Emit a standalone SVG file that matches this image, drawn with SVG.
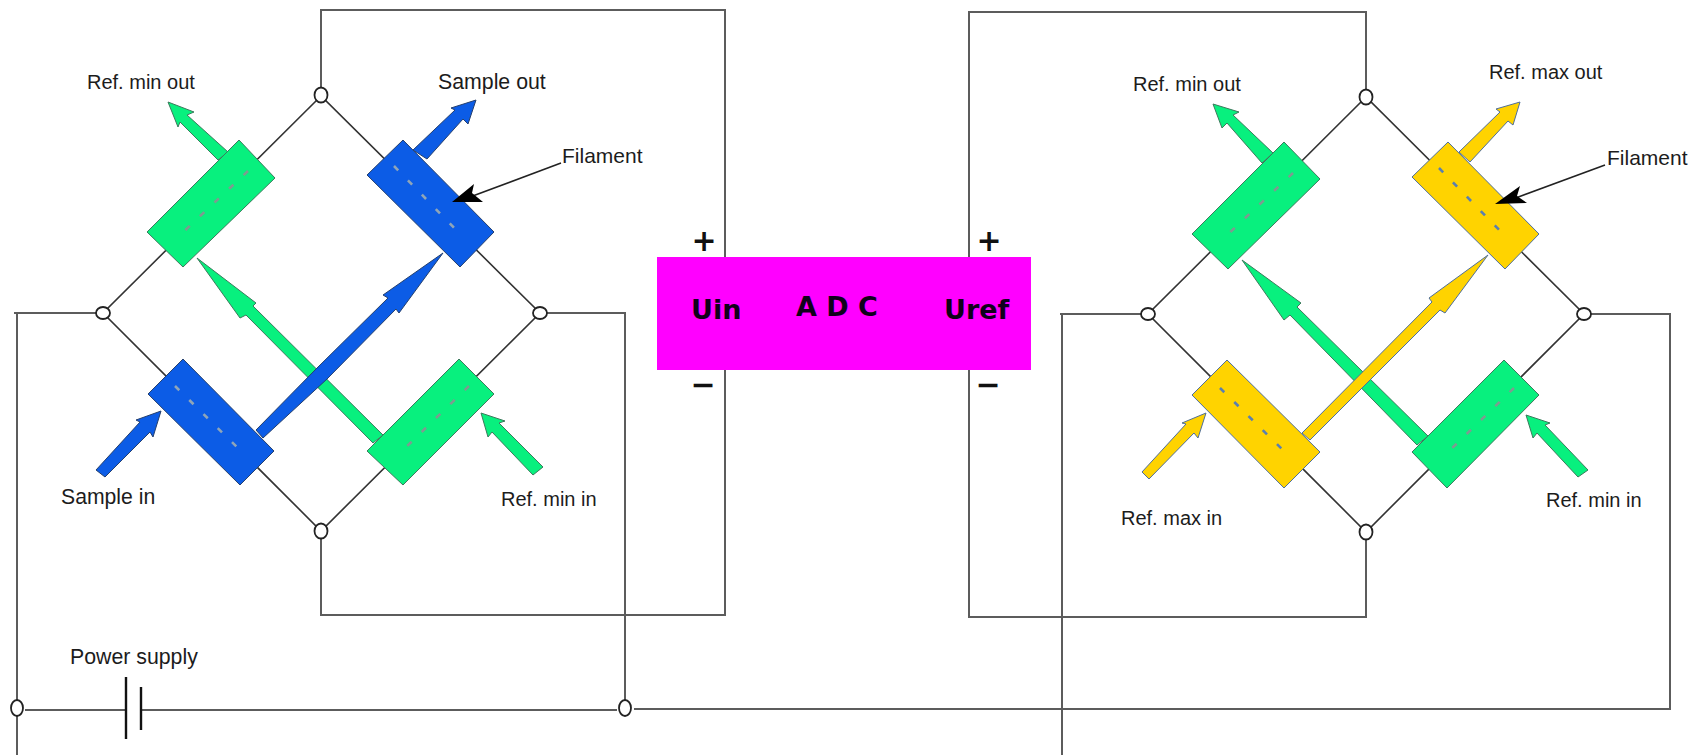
<svg xmlns="http://www.w3.org/2000/svg" width="1700" height="755" viewBox="0 0 1700 755">
<defs>
<style>
.wire{fill:none;stroke:#5c5c5c;stroke-width:2}
.diag{fill:none;stroke:#333;stroke-width:1.6}
.term{fill:#fff;stroke:#222;stroke-width:1.8}
.bat{stroke:#111;stroke-width:2.4;fill:none}
.g{fill:#08f07e;stroke:#3c7a5c;stroke-width:1}
.b{fill:#0c5ce6;stroke:#25406e;stroke-width:1}
.y{fill:#ffd300;stroke:#4f6f9a;stroke-width:1}
.dash{fill:none;stroke-width:2.6;stroke-dasharray:6 14}
.dg{stroke:#7f9a90}
.db{stroke:#8fa5b8}
.dy{stroke:#5a7fb0}
.lead{fill:none;stroke:#222;stroke-width:1.6}
.head{fill:#000}
text{font-family:"Liberation Sans",Arial,sans-serif;font-size:20px;fill:#1c1c1c}
.adc{font-family:"DejaVu Sans",Verdana,sans-serif;font-weight:700;font-size:27px;fill:#10001a}
.sign{font-family:"DejaVu Sans",Verdana,sans-serif;font-weight:700;font-size:30px;fill:#111;text-anchor:middle}
</style>
</defs>
<rect width="1700" height="755" fill="#fff"/>
<g id="connectors">
<path class="wire" d="M321 88V10H725V615H321V539"/>
<path class="wire" d="M97 313H14M17 313V755"/>
<path class="wire" d="M546 313H625V700"/>
<path class="wire" d="M25 710H126M141 710H617"/>
<path class="wire" d="M634 709H1670V314H1590"/>
<path class="wire" d="M1366 89V12H969V617H1366V540"/>
<path class="wire" d="M1142 314H1060M1062 314V755"/>
<path class="diag" d="M321 96L103 313L321 531L540 313Z"/>
<path class="diag" d="M1366 97L1148 314L1366 532L1584 314Z"/>
<polygon class="g" points="168,102 194,112 187,115 228,152 218,160 180,122 178,127"/>
<polygon class="b" points="476,100 451,108 455,110 413,150 427,159 463,119 468,124"/>
<polygon class="b" points="161,411 136,420 140,422 96,470 105,477 150,432 153,437"/>
<polygon class="g" points="481,413 505,421 499,423 543,467 533,475 492,432 488,437"/>
<polygon class="g" points="197,258 256,303 253,306 383,435 373,443 246,315 240,318"/>
<polygon class="b" points="443,253 383,295 388,298 317,368 256,430 263,438 327,379 396,309 399,313"/>
<polygon class="g" points="1213,104 1239,112 1233,115 1273,153 1262,163 1227,123 1222,128"/>
<polygon class="y" points="1520,102 1496,109 1500,112 1459,152 1470,162 1508,121 1513,125"/>
<polygon class="y" points="1206,413 1182,423 1186,424 1142,472 1149,479 1194,433 1198,438"/>
<polygon class="g" points="1526,415 1550,423 1545,425 1588,470 1578,477 1537,433 1533,438"/>
<polygon class="g" points="1242,260 1301,303 1297,307 1428,436 1417,445 1290,315 1284,320"/>
<polygon class="y" points="1488,255 1429,298 1432,302 1302,433 1310,440 1440,310 1445,313"/>
</g>
<g id="battery">
<path class="bat" d="M126 677V739M141 687V730"/>
<text x="70" y="664" style="font-size:21.3px">Power supply</text>
</g>
<g id="terminals">
<ellipse class="term" cx="321" cy="95" rx="6.5" ry="7.5"/>
<ellipse class="term" cx="103" cy="313" rx="7" ry="6"/>
<ellipse class="term" cx="540" cy="313" rx="7" ry="6"/>
<ellipse class="term" cx="321" cy="531" rx="6.5" ry="7.5"/>
<ellipse class="term" cx="17" cy="708" rx="6" ry="8"/>
<ellipse class="term" cx="625" cy="708" rx="6" ry="8"/>
<ellipse class="term" cx="1366" cy="97" rx="6.5" ry="7.5"/>
<ellipse class="term" cx="1148" cy="314" rx="7" ry="6"/>
<ellipse class="term" cx="1584" cy="314" rx="7" ry="6"/>
<ellipse class="term" cx="1366" cy="532" rx="6.5" ry="7.5"/>
</g>
<g id="cell-left-tl">
<polygon class="g" points="239,140 275,178 183,267 147,232"/>
<path class="dash dg" d="M248 171L180 235"/>
</g>
<g id="cell-left-tr">
<polygon class="b" points="403,140 367,175 460,267 494,232"/>
<path class="dash db" d="M394 166L462 236"/>
</g>
<g id="cell-left-bl">
<polygon class="b" points="183,359 148,394 240,485 274,451"/>
<path class="dash db" d="M175 386L244 454"/>
</g>
<g id="cell-left-br">
<polygon class="g" points="459,359 494,394 403,485 367,451"/>
<path class="dash dg" d="M469 386L400 453"/>
</g>
<g id="cell-right-tl">
<polygon class="g" points="1284,142 1320,179 1228,269 1192,234"/>
<path class="dash dg" d="M1293 173L1225 237"/>
</g>
<g id="cell-right-tr">
<polygon class="y" points="1448,142 1412,177 1505,269 1539,234"/>
<path class="dash dy" d="M1439 168L1507 238"/>
</g>
<g id="cell-right-bl">
<polygon class="y" points="1227,360 1192,395 1284,488 1320,452"/>
<path class="dash dy" d="M1220 388L1289 456"/>
</g>
<g id="cell-right-br">
<polygon class="g" points="1504,360 1539,395 1447,488 1412,452"/>
<path class="dash dg" d="M1514 388L1445 455"/>
</g>
<g id="filament-left">
<path class="lead" d="M561 163L470 197"/>
<polygon class="head" points="452,202 474,184 472,193 483,202"/>
<text x="562" y="163" style="font-size:21px">Filament</text>
</g>
<g id="filament-right">
<path class="lead" d="M1605 165L1513 199"/>
<polygon class="head" points="1495,204 1520,186 1517,196 1527,203"/>
<text x="1607" y="165" style="font-size:21px">Filament</text>
</g>
<g id="labels">
<text x="87" y="89">Ref. min out</text>
<text x="438" y="89" style="font-size:21.3px">Sample out</text>
<text x="61" y="504" style="font-size:21.2px">Sample in</text>
<text x="501" y="506">Ref. min in</text>
<text x="1133" y="91">Ref. min out</text>
<text x="1489" y="79" style="font-size:20px">Ref. max out</text>
<text x="1121" y="525">Ref. max in</text>
<text x="1546" y="507">Ref. min in</text>
</g>
<g id="adc">
<rect x="657" y="257" width="374" height="113" fill="#ff00ff"/>
<text class="adc" x="691" y="319">Uin</text>
<text class="adc" x="796" y="316">A D C</text>
<text class="adc" x="944" y="319">Uref</text>
<text class="sign" x="704" y="251">+</text>
<text class="sign" x="703" y="395">−</text>
<text class="sign" x="989" y="251">+</text>
<text class="sign" x="988" y="395">−</text>
</g>
</svg>
